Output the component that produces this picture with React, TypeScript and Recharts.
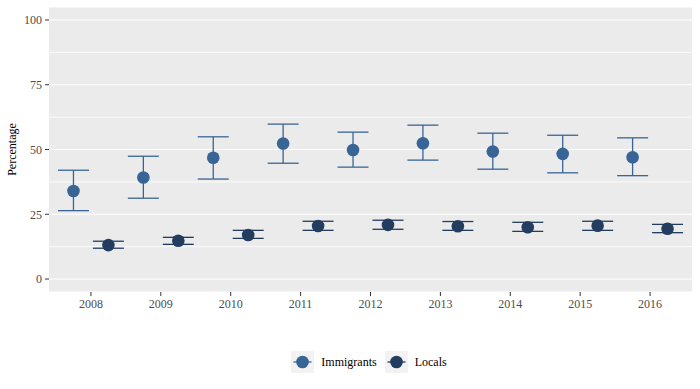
import React from "react"
import { ScatterChart, Scatter, XAxis, YAxis, CartesianGrid, ErrorBar, ReferenceLine, Legend } from "recharts"

const years = [2008, 2009, 2010, 2011, 2012, 2013, 2014, 2015, 2016]

const immigrantsMean = [34.0, 39.2, 46.8, 52.3, 49.8, 52.4, 49.2, 48.3, 47.0]
const immigrantsLow = [26.4, 31.2, 38.6, 44.7, 43.2, 45.9, 42.4, 41.0, 39.9]
const immigrantsHigh = [42.0, 47.4, 54.9, 59.8, 56.7, 59.4, 56.3, 55.5, 54.5]

const localsMean = [13.1, 14.8, 17.0, 20.5, 20.9, 20.4, 20.0, 20.6, 19.4]
const localsLow = [11.9, 13.4, 15.7, 18.8, 19.2, 18.8, 18.4, 18.8, 17.9]
const localsHigh = [14.6, 16.1, 18.8, 22.3, 22.7, 22.2, 21.9, 22.3, 21.1]

const yTicks = [0, 25, 50, 75, 100]
const minorTicks = [12.5, 37.5, 62.5, 87.5]

const IMM = "#386596"
const LOC = "#233d61"
const DODGE = 0.25

const build = (mean: number[], lo: number[], hi: number[], shift: number) =>
  years.map((yr, i) => ({
    x: yr + shift,
    y: mean[i],
    err: [mean[i] - lo[i], hi[i] - mean[i]],
  }))

const immData = build(immigrantsMean, immigrantsLow, immigrantsHigh, -DODGE)
const locData = build(localsMean, localsLow, localsHigh, DODGE)

const font = "'Liberation Serif', 'Times New Roman', serif"

const dot = (color: string) => (props: any) => (
  <circle cx={props.cx} cy={props.cy} r={6.3} fill={color} />
)

function LegendKey({ color }: { color: string }) {
  return (
    <svg width={23} height={22} style={{ display: "block" }}>
      <rect width={23} height={22} fill="#f2f2f2" />
      <line x1={2.5} x2={20.5} y1={11} y2={11} stroke={color} strokeWidth={1.3} />
      <circle cx={11.5} cy={11} r={6.3} fill={color} />
    </svg>
  )
}

function renderLegend() {
  const items = [
    { name: "Immigrants", color: IMM },
    { name: "Locals", color: LOC },
  ]
  return (
    <div style={{ display: "flex", justifyContent: "center", paddingLeft: 46, height: 22, alignItems: "center", fontFamily: font, fontSize: 12, color: "#000" }}>
      {items.map((it, i) => (
        <div key={it.name} style={{ display: "flex", alignItems: "center", marginLeft: i === 0 ? 0 : 8 }}>
          <LegendKey color={it.color} />
          <span style={{ marginLeft: 7 }}>{it.name}</span>
        </div>
      ))}
    </div>
  )
}

export default function App() {
  return (
    <div style={{ position: "absolute", left: 0, top: 0, background: "#fff" }}>
      <style>{"body{margin:0}"}</style>
      <ScatterChart width={700} height={389} margin={{ top: 7, right: 8, bottom: 16, left: 0 }}>
        <CartesianGrid fill="#ebebeb" stroke="#ffffff" strokeWidth={1} vertical={false} />
        {minorTicks.map((v) => (
          <ReferenceLine key={v} y={v} stroke="#ffffff" strokeWidth={0.8} ifOverflow="hidden" />
        ))}
        <XAxis
          type="number"
          dataKey="x"
          domain={[2007.4, 2016.6]}
          ticks={years}
          allowDataOverflow
          height={59}
          axisLine={false}
          tickSize={4}
          tickMargin={3}
          tickLine={{ stroke: "#333333" }}
          tick={{ fill: "#4d4d4d", fontSize: 12, fontFamily: font }}
        />
        <YAxis
          type="number"
          dataKey="y"
          domain={[-5, 105]}
          ticks={yTicks}
          allowDataOverflow
          width={49}
          axisLine={false}
          tickSize={4}
          tickMargin={3}
          tickLine={{ stroke: "#333333" }}
          tick={{ fill: "#4d4d4d", fontSize: 12, fontFamily: font }}
          label={({ viewBox }: any) => (
            <text
              x={viewBox.x + 12}
              y={viewBox.y + viewBox.height / 2}
              transform={`rotate(-90, ${viewBox.x + 12}, ${viewBox.y + viewBox.height / 2})`}
              textAnchor="middle"
              dominantBaseline="central"
              fontFamily={font}
              fontSize={12}
              fill="#000"
            >
              Percentage
            </text>
          )}
        />
        <Legend verticalAlign="bottom" height={22} content={renderLegend} />
        <Scatter name="Immigrants" data={immData} fill={IMM} shape={dot(IMM)} isAnimationActive={false}>
          <ErrorBar dataKey="err" direction="y" width={15.5} stroke={IMM} strokeWidth={1.3} isAnimationActive={false} />
        </Scatter>
        <Scatter name="Locals" data={locData} fill={LOC} shape={dot(LOC)} isAnimationActive={false}>
          <ErrorBar dataKey="err" direction="y" width={15.5} stroke={LOC} strokeWidth={1.3} isAnimationActive={false} />
        </Scatter>
      </ScatterChart>
    </div>
  )
}
